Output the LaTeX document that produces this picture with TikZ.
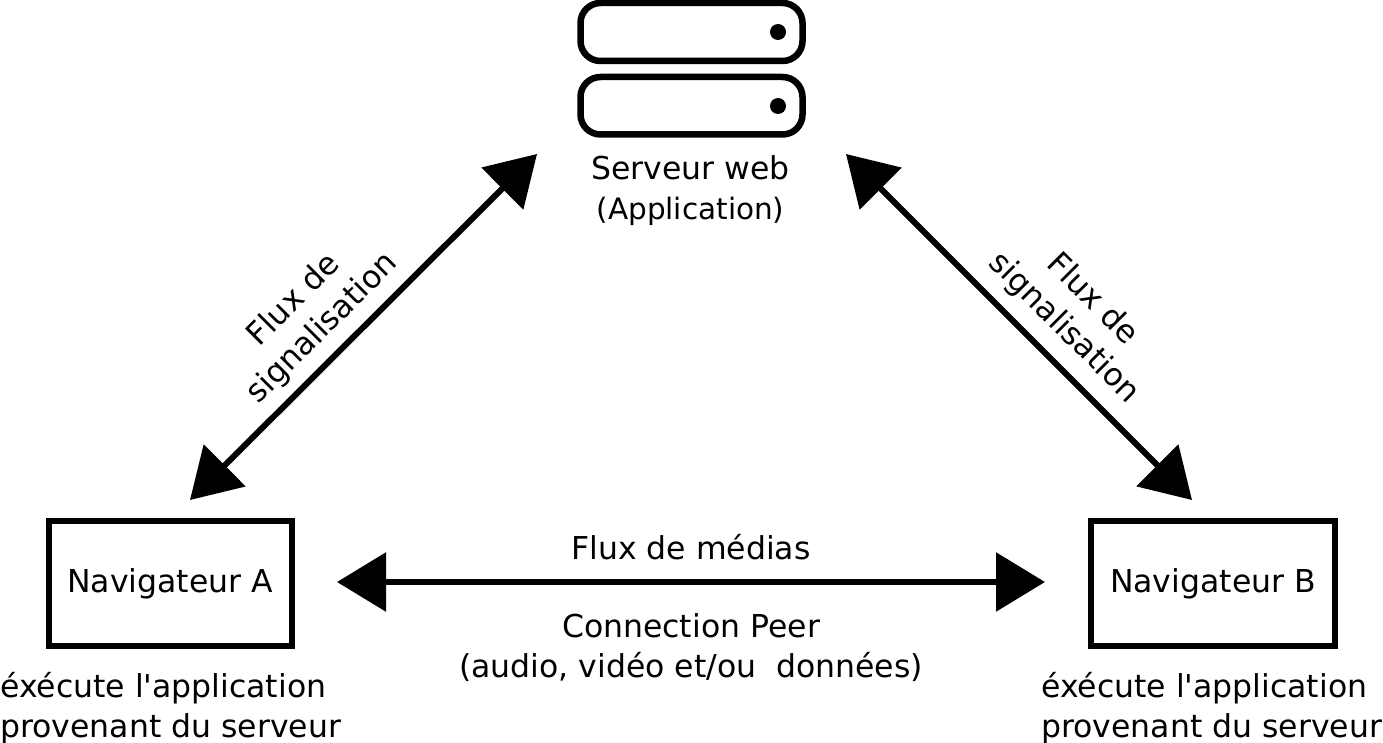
\documentclass[tikz,border=0pt]{standalone}
\usepackage{fontspec}
\setmainfont{DejaVu Sans}[Ligatures=TeXOff]
\usetikzlibrary{arrows.meta}
\tikzset{
  x=1pt,y=-1pt,
  box/.style={draw=black,line width=6pt,minimum height=125pt,inner sep=0pt,outer sep=3pt},
  srv/.style={draw=black,line width=6.5pt,rounded corners=20pt},
  led/.style={circle,fill=black,minimum size=16pt,inner sep=0pt},
  lab/.style={inner sep=0pt,align=center,font=\fontsize{31.5}{40}\selectfont},
  labl/.style={inner sep=0pt,align=left,font=\fontsize{31.5}{40}\selectfont},
  flow/.style={line width=6pt,{Triangle[length=49pt,width=58pt]}-{Triangle[length=49pt,width=58pt]}},
}
\begin{document}
\begin{tikzpicture}
\useasboundingbox (0,0) rectangle (1383,743);
\draw[srv] (580.5,3) rectangle (802.5,61);
\draw[srv] (580.5,77) rectangle (802.5,134.5);
\node[led] (d1) at (778,32) {};
\node[led] (d2) at (778,106) {};
\node[lab] (srvlab) at (690.5,190.5) {Serveur web\\{\fontsize{29.5}{40}\selectfont (Application)}};
\node[box,minimum width=243.5pt] (A) at (170.25,583.5) {};
\node[lab] at (A) {Navigateur A};
\node[box,minimum width=244pt] (B) at (1213,583.5) {};
\node[lab] at (B) {Navigateur B};
\node[labl,anchor=north west] (ea) at (0,672) {éxécute l'application\\provenant du serveur};
\node[labl,anchor=north west] (eb) at (1041,672) {éxécute l'application\\provenant du serveur};
\node[lab] (fm) at (691,547) {Flux de médias};
\node[lab] (cp) at (691,648) {Connection Peer\\(audio, vidéo et/ou\ \ données)};
\node[lab,rotate=45] (f1) at (308.5,314.5) {Flux de\\signalisation};
\node[lab,rotate=-45] (f2) at (1078,314) {Flux de\\signalisation};
\coordinate (la) at (190,500);
\coordinate (lb) at (537,154);
\coordinate (ra) at (1192,500);
\coordinate (rb) at (846,154);
\draw[flow] (la) -- (lb);
\draw[flow] (ra) -- (rb);
\draw[flow,shorten <=42pt,shorten >=43pt] (A.east |- 0,582) -- (B.west |- 0,582);
\end{tikzpicture}
\end{document}
